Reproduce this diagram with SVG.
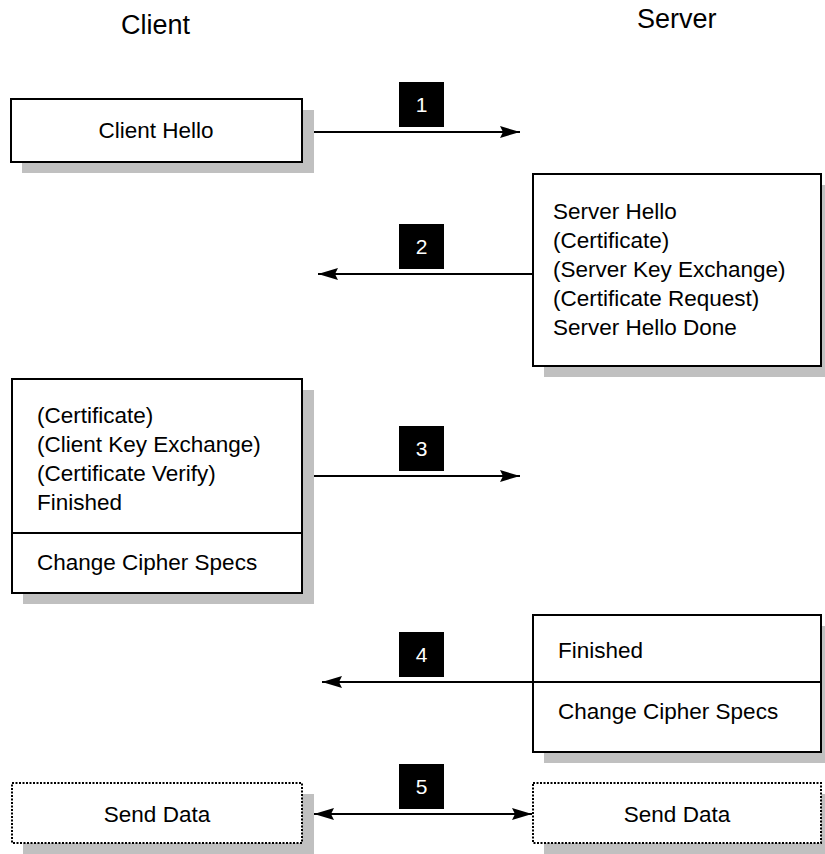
<svg xmlns="http://www.w3.org/2000/svg" width="825" height="854" viewBox="0 0 825 854">
<defs>
<style>
.box{fill:#fff;stroke:#000;stroke-width:2}
.dot{fill:#fff;stroke:#000;stroke-width:2;stroke-dasharray:2 1.5}
.sh{fill:#c0c0c0}
.t{font-family:"Liberation Sans",Arial,sans-serif;font-size:22.5px;fill:#000}
.title{font-family:"Liberation Sans",Arial,sans-serif;font-size:27px;fill:#000}
.lbl{fill:#000}
.num{font-family:"Liberation Sans",Arial,sans-serif;font-size:21px;fill:#fff;text-anchor:middle}
.ln{stroke:#000;stroke-width:2;fill:none}
</style>
<marker id="ah" markerWidth="20" markerHeight="12" refX="20" refY="6" orient="auto" markerUnits="userSpaceOnUse">
<path d="M0,0 L20,6 L0,12 L3,6 Z" fill="#000"/>
</marker>
<marker id="ahs" markerWidth="20" markerHeight="12" refX="0" refY="6" orient="auto" markerUnits="userSpaceOnUse">
<path d="M20,0 L0,6 L20,12 L17,6 Z" fill="#000"/>
</marker>
</defs>
<rect width="825" height="854" fill="#fff"/>
<g id="titles">
<text class="title" x="121" y="34">Client</text>
<text class="title" x="637" y="28">Server</text>
</g>
<g id="client-hello">
<rect class="sh" x="22" y="110" width="292" height="63"/>
<rect class="box" x="11" y="99" width="291" height="63"/>
<text class="t" x="156" y="138" text-anchor="middle">Client Hello</text>
</g>
<g id="server-hello">
<rect class="sh" x="544" y="185" width="290" height="192"/>
<rect class="box" x="533" y="174" width="288" height="192"/>
<text class="t" x="553" y="219">Server Hello</text>
<text class="t" x="553" y="248">(Certificate)</text>
<text class="t" x="553" y="277">(Server Key Exchange)</text>
<text class="t" x="553" y="306">(Certificate Request)</text>
<text class="t" x="553" y="335">Server Hello Done</text>
</g>
<g id="client-finished">
<rect class="sh" x="23" y="390" width="291" height="214"/>
<rect class="box" x="12" y="379" width="290" height="214"/>
<line class="ln" x1="12" y1="533" x2="302" y2="533"/>
<text class="t" x="37" y="423">(Certificate)</text>
<text class="t" x="37" y="452">(Client Key Exchange)</text>
<text class="t" x="37" y="481">(Certificate Verify)</text>
<text class="t" x="37" y="510">Finished</text>
<text class="t" x="37" y="570">Change Cipher Specs</text>
</g>
<g id="server-finished">
<rect class="sh" x="544" y="626" width="290" height="137"/>
<rect class="box" x="533" y="615" width="288" height="137"/>
<line class="ln" x1="533" y1="682" x2="821" y2="682"/>
<text class="t" x="558" y="658">Finished</text>
<text class="t" x="558" y="719">Change Cipher Specs</text>
</g>
<g id="client-send">
<rect class="sh" x="23" y="794" width="291" height="60"/>
<rect class="dot" x="12" y="783" width="290" height="60"/>
<text class="t" x="157" y="822" text-anchor="middle">Send Data</text>
</g>
<g id="server-send">
<rect class="sh" x="544" y="794" width="290" height="60"/>
<rect class="dot" x="533" y="783" width="288" height="60"/>
<text class="t" x="677" y="822" text-anchor="middle">Send Data</text>
</g>
<g id="connectors">
<line class="ln" x1="314" y1="132" x2="520" y2="132" marker-end="url(#ah)"/>
<line class="ln" x1="533" y1="274" x2="318" y2="274" marker-end="url(#ah)"/>
<line class="ln" x1="314" y1="476" x2="520" y2="476" marker-end="url(#ah)"/>
<line class="ln" x1="533" y1="682" x2="322" y2="682" marker-end="url(#ah)"/>
<line class="ln" x1="314" y1="814" x2="532" y2="814" marker-start="url(#ahs)" marker-end="url(#ah)"/>
</g>
<g id="labels">
<rect class="lbl" x="399" y="82" width="45" height="45"/>
<text class="num" x="421.5" y="112">1</text>
<rect class="lbl" x="399" y="224" width="45" height="45"/>
<text class="num" x="421.5" y="254">2</text>
<rect class="lbl" x="399" y="426" width="45" height="45"/>
<text class="num" x="421.5" y="456">3</text>
<rect class="lbl" x="399" y="632" width="45" height="45"/>
<text class="num" x="421.5" y="662">4</text>
<rect class="lbl" x="399" y="764" width="45" height="45"/>
<text class="num" x="421.5" y="794">5</text>
</g>
</svg>
